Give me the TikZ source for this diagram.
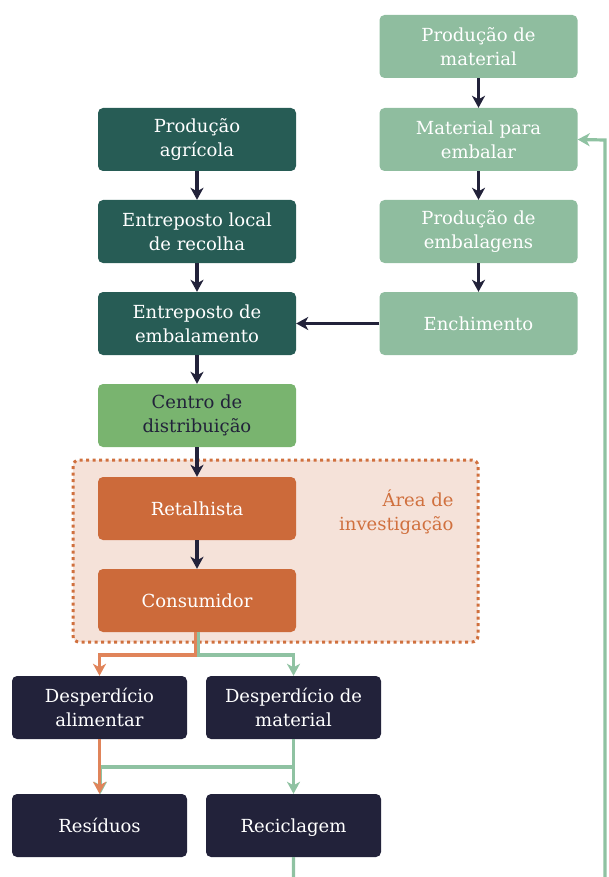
\documentclass[tikz,border=0pt]{standalone}
\usepackage{fontspec}
\setmainfont{DejaVu Serif}
\usetikzlibrary{arrows.meta}
\definecolor{teal}{HTML}{275C55}
\definecolor{sage}{HTML}{8FBD9F}
\definecolor{leaf}{HTML}{79B46F}
\definecolor{rust}{HTML}{CC6A3A}
\definecolor{navy}{HTML}{22223A}
\definecolor{peach}{HTML}{F5E2D9}
\definecolor{orng}{HTML}{E0845A}
\definecolor{mint}{HTML}{8FC2A2}
\definecolor{arealab}{HTML}{D0703E}
\tikzset{
  box/.style={rounded corners=5pt, minimum width=198pt, minimum height=63pt, align=center, text=white, inner sep=2pt, font=\fontsize{18}{24}\selectfont},
  sbox/.style={box, minimum width=175pt},
  link/.style={line width=3.2pt, draw=navy, -{Stealth[length=12pt,width=13pt,inset=3.5pt]}},
  olink/.style={line width=3.2pt, draw=orng, -{Stealth[length=12pt,width=13pt,inset=3.5pt]}},
  glink/.style={line width=3.2pt, draw=mint, -{Stealth[length=12pt,width=13pt,inset=3.5pt]}},
}
\begin{document}
\begin{tikzpicture}[x=1pt,y=-1pt]
\useasboundingbox (0,0) rectangle (608,877);
\clip (0,0) rectangle (608,877);
% research area
\draw[fill=peach, draw=arealab, line width=3pt, dash pattern=on 3pt off 3.5pt, rounded corners=6pt] (73,460) rectangle (478,642);
\node[anchor=east, align=right, text=arealab, font=\fontsize{18}{24}\selectfont] (area) at (457,512) {Área de\\investigação};
% left column
\node[box, fill=teal] (pa) at (197,139.5) {Produção\\agrícola};
\node[box, fill=teal] (elr) at (197,231.5) {Entreposto local\\de recolha};
\node[box, fill=teal] (emb) at (197,323.5) {Entreposto de\\embalamento};
\node[box, fill=leaf, text=navy] (cd) at (197,415.5) {Centro de\\distribuição};
\node[box, fill=rust] (ret) at (197,508.5) {Retalhista};
\node[box, fill=rust] (con) at (197,600.5) {Consumidor};
% right column
\node[box, fill=sage] (pm) at (478.5,46.5) {Produção de\\material};
\node[box, fill=sage] (mpe) at (478.5,139.5) {Material para\\embalar};
\node[box, fill=sage] (pe) at (478.5,231.5) {Produção de\\embalagens};
\node[box, fill=sage] (ench) at (478.5,323.5) {Enchimento};
% bottom
\node[sbox, fill=navy] (da) at (99.5,707.5) {Desperdício\\alimentar};
\node[sbox, fill=navy] (dm) at (293.5,707.5) {Desperdício de\\material};
\node[sbox, fill=navy] (res) at (99.5,825.5) {Resíduos};
\node[sbox, fill=navy] (rec) at (293.5,825.5) {\raisebox{0pt}[\height][0pt]{Reciclagem}};
% arrows
\draw[link] (pa) -- (elr);
\draw[link] (elr) -- (emb);
\draw[link] (emb) -- (cd);
\draw[link] (cd) -- (ret);
\draw[link] (ret) -- (con);
\draw[link] (pm) -- (mpe);
\draw[link] (mpe) -- (pe);
\draw[link] (pe) -- (ench);
\draw[link] (ench) -- (emb);
% waste
\coordinate (cg) at ([xshift=1.5pt]con.south);
\coordinate (co) at ([xshift=-1.5pt]con.south);
\draw[glink] (cg) |- (dm.north |- 0,655) -- (dm.north);
\draw[olink] (co) |- (da.north |- 0,655) -- (da.north);
\draw[glink] (dm.south) -- (rec.north);
\draw[glink] (dm.south |- 0,767) -- ([xshift=1pt]res.north |- 0,767) -- ([xshift=1pt]res.north);
\draw[olink] (da.south) -- (res.north);
\draw[glink] (rec.south) -- (rec.south |- 0,900) -- (605,900) -- (605,140) -- (mpe.east);
\end{tikzpicture}
\end{document}
